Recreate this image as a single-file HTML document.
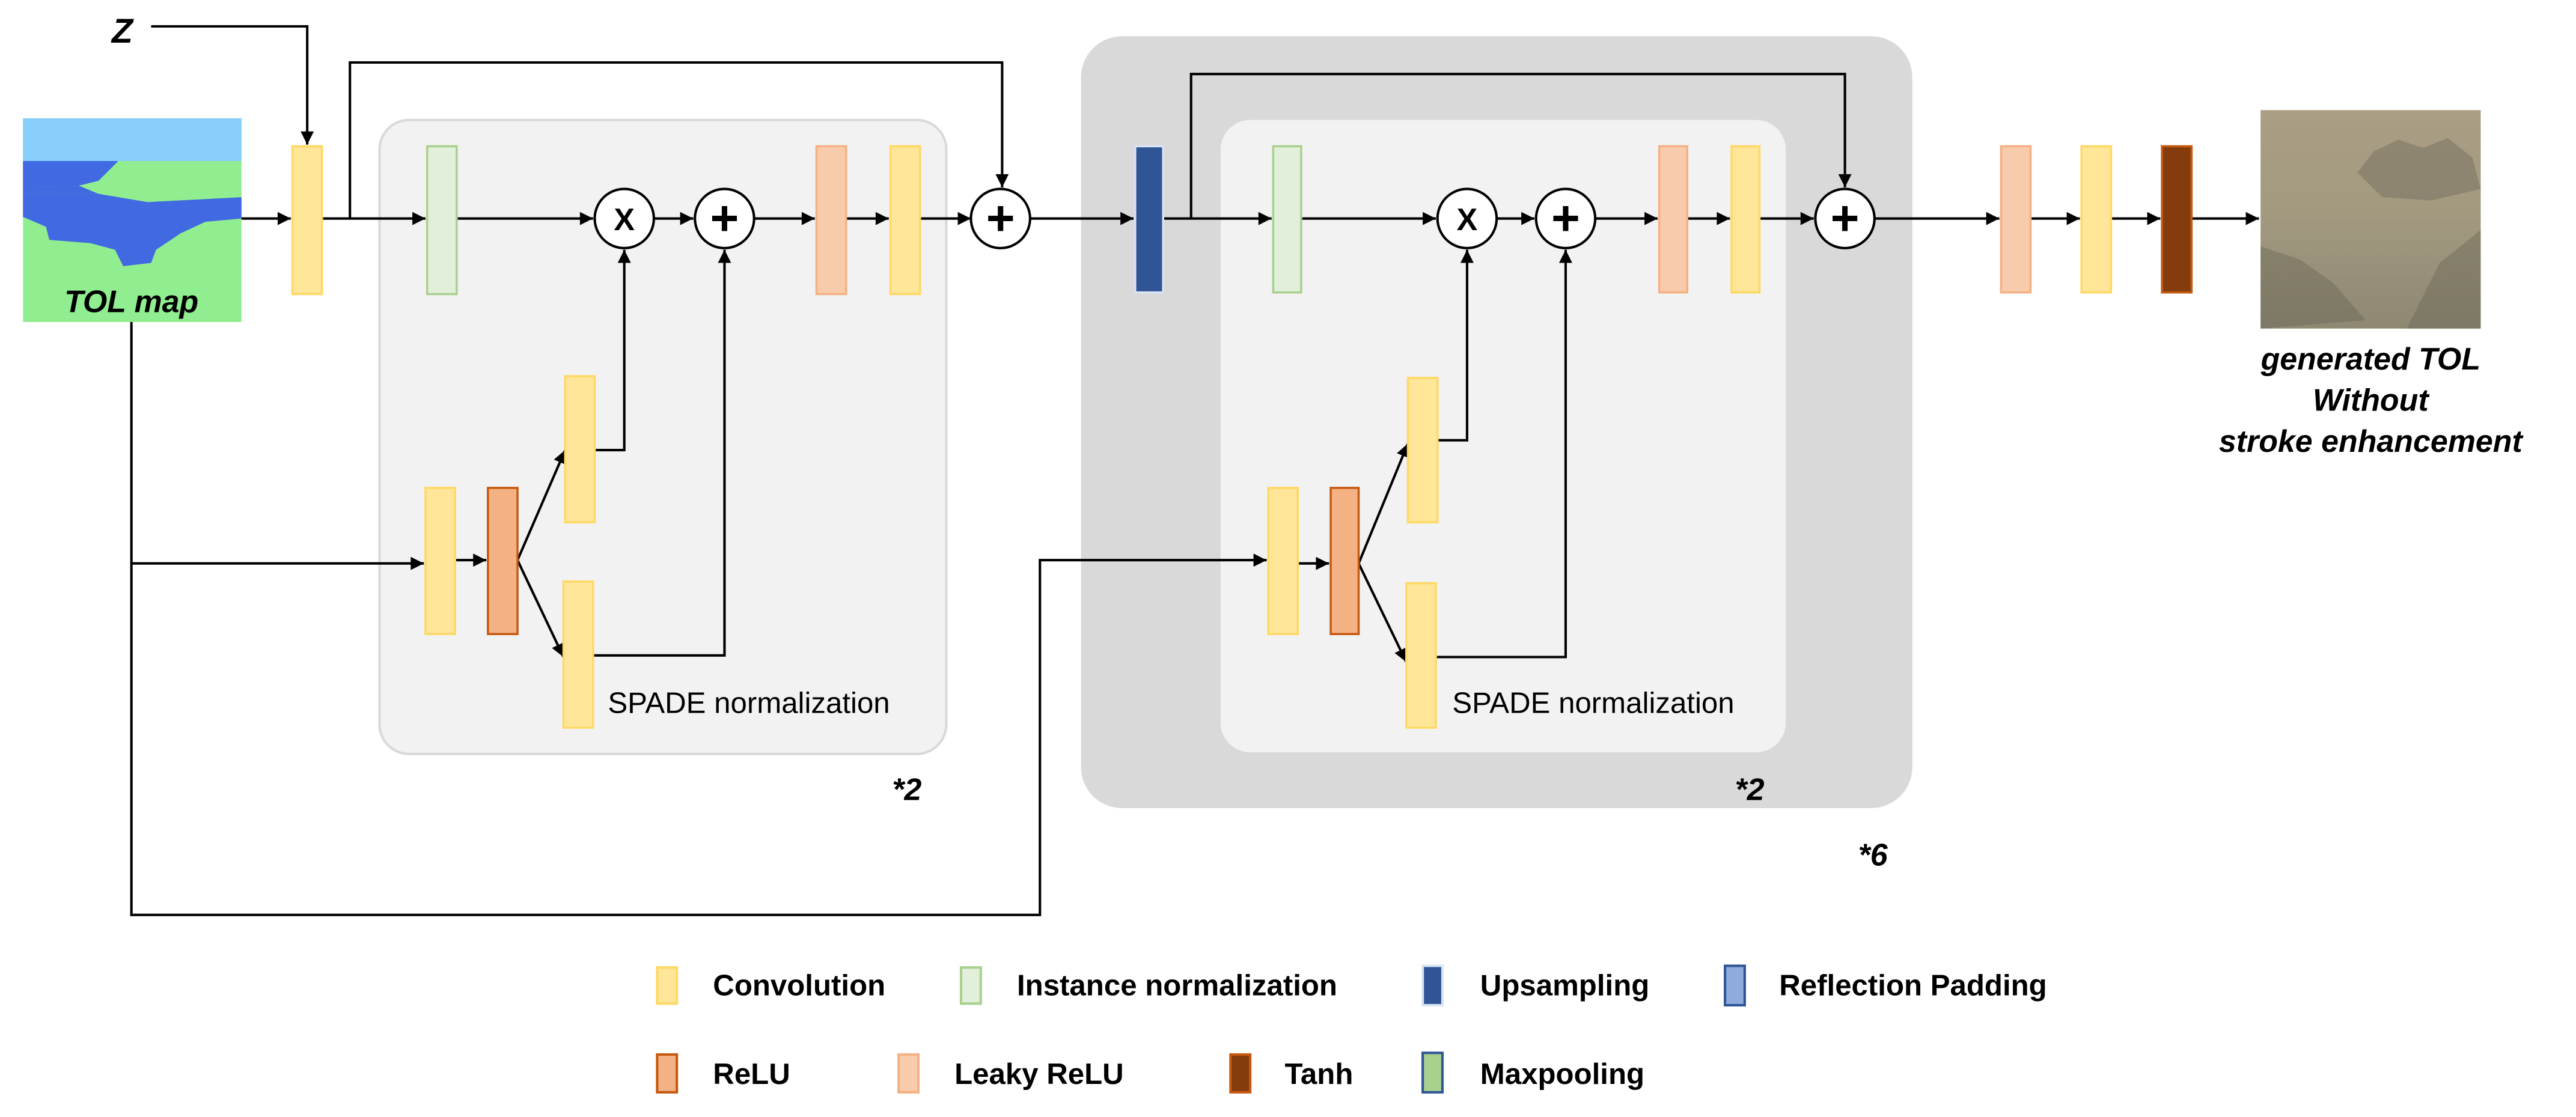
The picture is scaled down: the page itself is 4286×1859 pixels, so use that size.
<!DOCTYPE html>
<html><head><meta charset="utf-8"><style>html,body{margin:0;padding:0;background:#fff}svg{display:block}</style></head><body>
<svg width="4286" height="1859" viewBox="0 0 1568 680" xmlns="http://www.w3.org/2000/svg" font-family="Liberation Sans, DejaVu Sans, sans-serif">
<defs>
<marker id="a" viewBox="0 0 10 10" refX="10" refY="5" markerWidth="9" markerHeight="8" orient="auto" markerUnits="userSpaceOnUse"><path d="M0,0 L10,5 L0,10z" fill="#000"/></marker>
<linearGradient id="pg" x1="0" y1="0" x2="0" y2="1"><stop offset="0" stop-color="#aa9e84"/><stop offset="0.45" stop-color="#a39a80"/><stop offset="1" stop-color="#8e8873"/></linearGradient>
</defs>
<g stroke="#000" stroke-width="1.5" fill="none">
<rect x="658" y="22" width="506" height="470" rx="25" fill="#d9d9d9" stroke="none"/>
<rect x="231" y="73" width="345" height="386" rx="18" fill="#f2f2f2" stroke="#d9d9d9"/>
<rect x="743" y="73" width="344" height="385" rx="18" fill="#f2f2f2" stroke="none"/>
</g>
<!-- TOL map -->
<rect x="14" y="72" width="133" height="124" fill="#90ee90"/>
<rect x="14" y="72" width="133" height="26" fill="#87cefa"/>
<path d="M14,98 L72,98 L60,110 L48,113 L14,114z" fill="#4169e1"/>
<path d="M14,118 L60,118 L90,123 L147,120 L147,133 L125,135 L110,142 L95,152 L92,160 L75,162 L70,152 L55,148 L30,146 L28,138 L14,132z" fill="#4169e1"/>
<path d="M14,114 L48,113 L60,118 L14,118z" fill="#4169e1"/>
<text x="80" y="190" font-size="19" font-weight="bold" font-style="italic" text-anchor="middle">TOL map</text>
<text x="68" y="26" font-size="21" font-weight="bold" font-style="italic">Z</text>
<!-- painting -->
<rect x="1376" y="67" width="134" height="133" fill="url(#pg)"/>
<path d="M1435,105 L1445,92 L1460,85 L1475,90 L1490,84 L1505,96 L1510,115 L1480,122 L1450,120z" fill="#6f6a5a" opacity="0.45"/>
<path d="M1376,150 L1400,158 L1420,172 L1440,195 L1376,200z M1510,140 L1485,160 L1465,200 L1510,200z" fill="#5f5b4c" opacity="0.35"/>
<g font-size="19" font-weight="bold" font-style="italic" text-anchor="middle">
<text x="1443" y="225">generated TOL</text><text x="1443" y="250">Without</text><text x="1443" y="275">stroke enhancement</text>
</g>
<!-- connectors -->
<g stroke="#000" stroke-width="1.5" fill="none">
<path d="M92,16 H187 V88" marker-end="url(#a)"/>
<path d="M147,133 H177" marker-end="url(#a)"/>
<path d="M196,133 H259" marker-end="url(#a)"/>
<path d="M213,133 V38 H610 V114" marker-end="url(#a)"/>
<path d="M278,133 H361" marker-end="url(#a)"/>
<path d="M398,133 H422" marker-end="url(#a)"/>
<path d="M459,133 H496" marker-end="url(#a)"/>
<path d="M515,133 H541" marker-end="url(#a)"/>
<path d="M560,133 H591" marker-end="url(#a)"/>
<path d="M627,133 H690" marker-end="url(#a)"/>
<path d="M708,133 H774" marker-end="url(#a)"/>
<path d="M725,133 V45 H1123 V114" marker-end="url(#a)"/>
<path d="M792,133 H874" marker-end="url(#a)"/>
<path d="M911,133 H934" marker-end="url(#a)"/>
<path d="M971,133 H1009" marker-end="url(#a)"/>
<path d="M1027,133 H1053" marker-end="url(#a)"/>
<path d="M1071,133 H1104" marker-end="url(#a)"/>
<path d="M1141,133 H1217" marker-end="url(#a)"/>
<path d="M1236,133 H1266" marker-end="url(#a)"/>
<path d="M1285,133 H1315" marker-end="url(#a)"/>
<path d="M1334,133 H1375" marker-end="url(#a)"/>
<path d="M80,196 V557 H633 V341 H771" marker-end="url(#a)"/>
<path d="M80,343 H258" marker-end="url(#a)"/>
<path d="M277,341 H296" marker-end="url(#a)"/>
<path d="M315,341 L344,274" marker-end="url(#a)"/>
<path d="M315,341 L343,400" marker-end="url(#a)"/>
<path d="M362,274 H380 V152" marker-end="url(#a)"/>
<path d="M361,399 H441 V152" marker-end="url(#a)"/>
<path d="M790,343 H809" marker-end="url(#a)"/>
<path d="M827,343 L857,270" marker-end="url(#a)"/>
<path d="M827,343 L856,403" marker-end="url(#a)"/>
<path d="M875,268 H893 V152" marker-end="url(#a)"/>
<path d="M874,400 H953 V152" marker-end="url(#a)"/>
</g>
<!-- blocks -->
<g stroke-width="1.3">
<g fill="#ffe699" stroke="#ffd966">
<rect x="178" y="89" width="18" height="90"/><rect x="542" y="89" width="18" height="90"/>
<rect x="259" y="297" width="18" height="89"/><rect x="344" y="229" width="18" height="89"/><rect x="343" y="354" width="18" height="89"/>
<rect x="1054" y="89" width="17" height="89"/><rect x="772" y="297" width="18" height="89"/><rect x="857" y="230" width="18" height="88"/><rect x="856" y="355" width="18" height="88"/>
<rect x="1267" y="89" width="18" height="89"/>
</g>
<g fill="#e2efda" stroke="#a9d18e"><rect x="260" y="89" width="18" height="90"/><rect x="775" y="89" width="17" height="89"/></g>
<g fill="#f8cbad" stroke="#f4b183"><rect x="497" y="89" width="18" height="90"/><rect x="1010" y="89" width="17" height="89"/><rect x="1218" y="89" width="18" height="89"/></g>
<g fill="#f4b183" stroke="#c55a11"><rect x="297" y="297" width="18" height="89"/><rect x="810" y="297" width="17" height="89"/></g>
<rect x="691" y="89" width="17" height="89" fill="#2f5597" stroke="#dae3f3"/>
<rect x="1316" y="89" width="18" height="89" fill="#843c0c" stroke="#c55a11"/>
</g>
<!-- circles -->
<g fill="#fff" stroke="#000" stroke-width="1.5">
<circle cx="380" cy="133" r="18"/><circle cx="441" cy="133" r="18"/><circle cx="609" cy="133" r="18"/>
<circle cx="893" cy="133" r="18"/><circle cx="953" cy="133" r="18"/><circle cx="1123" cy="133" r="18"/>
</g>
<g font-weight="bold" text-anchor="middle">
<g font-size="19"><text x="380" y="140">X</text><text x="893" y="140">X</text></g>
<g font-size="30"><text x="441" y="143">+</text><text x="609" y="143">+</text><text x="953" y="143">+</text><text x="1123" y="143">+</text></g>
</g>
<g font-size="18"><text x="370" y="434">SPADE normalization</text><text x="884" y="434">SPADE normalization</text></g>
<g font-size="19" font-weight="bold" font-style="italic"><text x="543" y="487">*2</text><text x="1056" y="487">*2</text><text x="1131" y="527">*6</text></g>
<!-- legend -->
<g stroke-width="1.5">
<rect x="400" y="589" width="12" height="22" fill="#ffe699" stroke="#ffd966"/>
<rect x="585" y="589" width="12" height="22" fill="#e2efda" stroke="#a9d18e"/>
<rect x="866" y="588" width="12" height="24" fill="#2f5597" stroke="#dae3f3"/>
<rect x="1050" y="588" width="12" height="24" fill="#8faadc" stroke="#2f5597"/>
<rect x="400" y="642" width="12" height="23" fill="#f4b183" stroke="#c55a11"/>
<rect x="547" y="642" width="12" height="23" fill="#f8cbad" stroke="#f4b183"/>
<rect x="749" y="642" width="12" height="23" fill="#843c0c" stroke="#c55a11"/>
<rect x="866" y="641" width="12" height="24" fill="#a9d18e" stroke="#2f5597"/>
</g>
<g font-size="18" font-weight="bold">
<text x="434" y="606">Convolution</text><text x="619" y="606">Instance normalization</text><text x="901" y="606">Upsampling</text><text x="1083" y="606">Reflection Padding</text>
<text x="434" y="660">ReLU</text><text x="581" y="660">Leaky ReLU</text><text x="782" y="660">Tanh</text><text x="901" y="660">Maxpooling</text>
</g>
</svg>
</body></html>
